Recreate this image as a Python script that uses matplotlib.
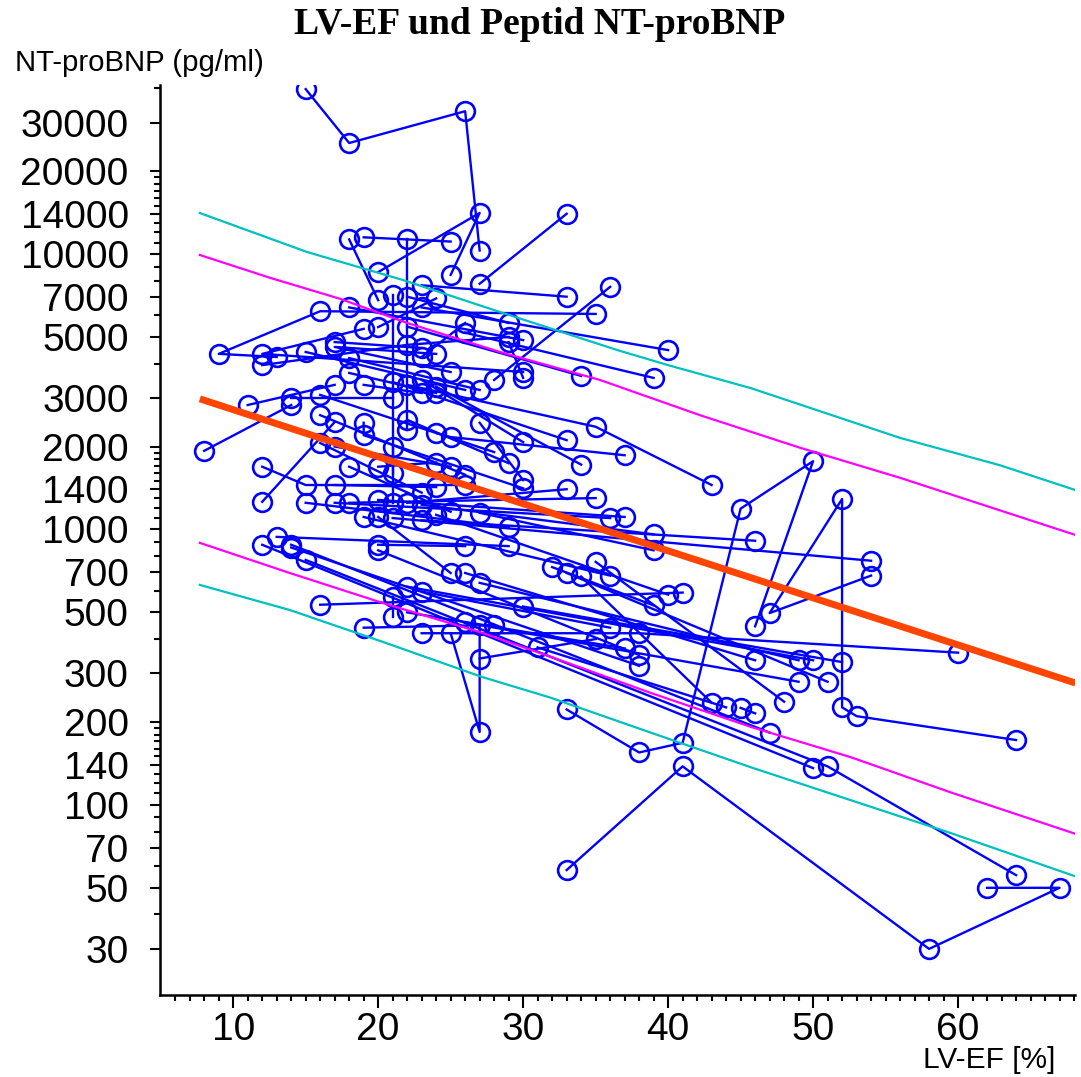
import matplotlib
matplotlib.use("Agg")
import matplotlib.pyplot as plt
import numpy as np
from matplotlib.ticker import FixedLocator, NullFormatter

# LV-EF (%) and NT-proBNP (pg/ml) per patient, measurements joined in order
ef_chains = [
    [15, 18, 26, 27], [20, 27, 25], [18, 20], [19, 25], [22, 22], [27, 33],
    [13, 9, 16, 35], [23, 33], [36, 28], [21, 21], [22, 29], [24, 20],
    [23, 40], [18, 30], [19, 12, 30], [22, 34], [26, 23], [26, 39],
    [29, 22, 12], [29, 30], [23, 17], [24, 17, 25], [15, 26], [18, 27],
    [18, 24], [19, 23], [21, 33], [21, 14], [17, 11], [16, 28], [14, 8],
    [22, 35, 43], [23, 30], [24, 34], [16, 26], [12, 17], [19, 19, 30],
    [22, 29], [24, 25, 37], [27, 30], [12, 15, 26], [15, 29], [17, 24],
    [17, 36], [18, 35], [16, 23], [17, 25], [21, 21], [20, 24], [20, 37],
    [22, 33], [23, 39], [27, 39], [19, 36], [20, 25], [21, 54], [23, 46],
    [24, 40], [18, 25],
    [33, 38, 41, 45, 50, 46], [54, 47, 52, 52, 53, 64],
    [12, 50], [13, 29], [14, 47], [14, 38], [15, 51, 64], [26, 20], [20, 38],
    [26, 46], [27, 49], [22, 50], [21, 21], [23, 36], [22, 37], [16, 41],
    [19, 28], [23, 38, 60], [25, 27, 27], [26, 49], [31, 44], [27, 35],
    [30, 52], [35, 48], [32, 39], [33, 51], [34, 43], [33, 41, 58, 67, 62],
    [45, 46],
]
bnp_chains = [
    [39700, 25300, 33000, 10300], [8600, 14100, 8400], [11300, 6800],
    [11500, 11100], [11300, 2290], [7800, 14000],
    [4230, 4340, 6200, 6060], [7700, 7000], [7600, 3490], [7100, 1250],
    [7000, 5620], [6900, 5430], [6400, 4480], [6400, 4870],
    [5350, 4340, 3730], [5450, 3610], [5620, 4230], [5180, 3550],
    [5000, 4680, 3950], [4790, 3550], [4560, 4790], [4340, 4600, 3730],
    [4410, 3210], [4190, 3210], [3700, 3130], [3350, 3130], [3430, 2110],
    [3000, 3000], [3350, 2830], [3080, 1910], [2830, 1930],
    [3350, 2360, 1450], [3490, 2075], [3300, 1720], [2600, 1580],
    [1260, 2455], [2440, 2200, 1410], [2500, 1740], [2240, 2165, 1860],
    [2440, 1510], [1690, 1450, 1450], [1250, 1020], [1450, 1425],
    [1250, 1100], [1250, 1300], [2060, 1360], [2000, 1690], [2000, 1600],
    [1690, 1750], [1280, 1110], [1250, 1400], [1230, 960], [1150, 840],
    [1110, 680], [1110, 695], [1100, 770], [1080, 910], [1130, 580],
    [1690, 1160],
    [222, 155, 168, 1190, 1770, 445], [680, 497, 1290, 226, 210, 172],
    [880, 136], [940, 870], [880, 183], [860, 320], [775, 138, 55.6],
    [870, 880], [840, 350], [695, 335], [640, 335], [620, 335], [570, 480],
    [595, 440], [500, 370], [533, 590], [440, 450], [420, 420, 357],
    [420, 184, 450], [460, 280], [373, 226], [340, 400], [525, 330],
    [763, 237], [730, 530], [695, 280], [675, 235], [58, 138, 30, 50, 50],
    [225, 215],
]

# regression line and reference bands
reg_ef = [7.7, 68.1]
reg_bnp = [2980, 277]
cyan_up_ef = [7.7, 15.1, 21.7, 28.6, 36.5, 40.0, 45.7, 56.0, 62.9, 68.1]
cyan_up_bnp = [14090, 10170, 8050, 6110, 4480, 3950, 3260, 2150, 1710, 1390]
mag_up_ef = [7.7, 12.6, 17.4, 22.0, 28.4, 35.3, 42.2, 49.1, 56.0, 68.1]
mag_up_bnp = [9920, 8180, 6870, 5620, 4410, 3490, 2600, 1980, 1540, 955]
low_ef = [7.7, 13.9, 20.3, 27.2, 31.9, 38.8, 45.7, 52.6, 59.5, 68.1]
mag_lo_bnp = [894, 695, 541, 421, 345, 255, 192, 149, 111, 78.5]
cyan_lo_bnp = [629, 510, 391, 291, 245, 183, 137, 104, 79, 55]

y_major = [30, 50, 70, 100, 140, 200, 300, 500, 700, 1000, 1400, 2000,
           3000, 5000, 7000, 10000, 14000, 20000, 30000]
x_major = [10, 20, 30, 40, 50, 60]

plt.rcParams["font.family"] = ["Liberation Sans", "DejaVu Sans"]

fig = plt.figure(figsize=(10.81, 10.77), dpi=100)
ax = fig.add_axes([0.148, 0.0761, 0.8465, 0.8449])

for xs, ys in zip(ef_chains, bnp_chains):
    ax.plot(xs, ys, color="#0000ff", lw=1.7, marker="o", ms=13.5,
            mfc="none", mec="#0000ff", mew=1.9, zorder=2)

ax.plot(cyan_up_ef, cyan_up_bnp, color="#00c0c0", lw=1.6, zorder=3)
ax.plot(low_ef, cyan_lo_bnp, color="#00c0c0", lw=1.6, zorder=3)
ax.plot(mag_up_ef, mag_up_bnp, color="#ff00ff", lw=1.6, zorder=3)
ax.plot(low_ef, mag_lo_bnp, color="#ff00ff", lw=1.6, zorder=3)
ax.plot(reg_ef, reg_bnp, color="#ff4500", lw=5, zorder=4, solid_capstyle="butt")

ax.set_yscale("log")
ax.set_xlim(4.95, 68.07)
ax.set_ylim(20.4, 41060)

# minor ticks: 1.1..1.9 and 2..9 per decade
minors = []
for k in range(1, 5):
    for m in list(np.arange(1.1, 2.0, 0.1)) + list(range(2, 10)):
        v = round(m * 10 ** k)
        if v not in y_major:
            minors.append(v)
ax.yaxis.set_major_locator(FixedLocator(y_major))
ax.set_yticklabels([str(v) for v in y_major])
ax.yaxis.set_minor_locator(FixedLocator(minors))
ax.yaxis.set_minor_formatter(NullFormatter())

ax.xaxis.set_major_locator(FixedLocator(x_major))
ax.set_xticklabels([str(v) for v in x_major])
ax.xaxis.set_minor_locator(FixedLocator(list(range(6, 69))))

for s in ["top", "right"]:
    ax.spines[s].set_visible(False)
for s in ["left", "bottom"]:
    ax.spines[s].set_linewidth(1.8)

ax.tick_params(axis="y", which="major", length=7.5, width=1.5, pad=15, labelsize=28)
ax.tick_params(axis="y", which="minor", length=4, width=1.5)
ax.tick_params(axis="x", which="major", length=9, width=1.5, pad=3, labelsize=28)
ax.tick_params(axis="x", which="minor", length=4, width=1.5)

fig.text(0.4995, 1 - 25 / 1077, "LV-EF und Peptid NT-proBNP", ha="center", va="center",
         family="Liberation Serif", weight="bold", fontsize=27)
fig.text(15 / 1081, 1 - 63 / 1077, "NT-proBNP (pg/ml)", ha="left", va="center",
         fontsize=21.2)
fig.text(1055 / 1081, 1 - 1060 / 1077, "LV-EF [%]", ha="right", va="center",
         fontsize=21.5)

fig.savefig("out.png", dpi=100)
